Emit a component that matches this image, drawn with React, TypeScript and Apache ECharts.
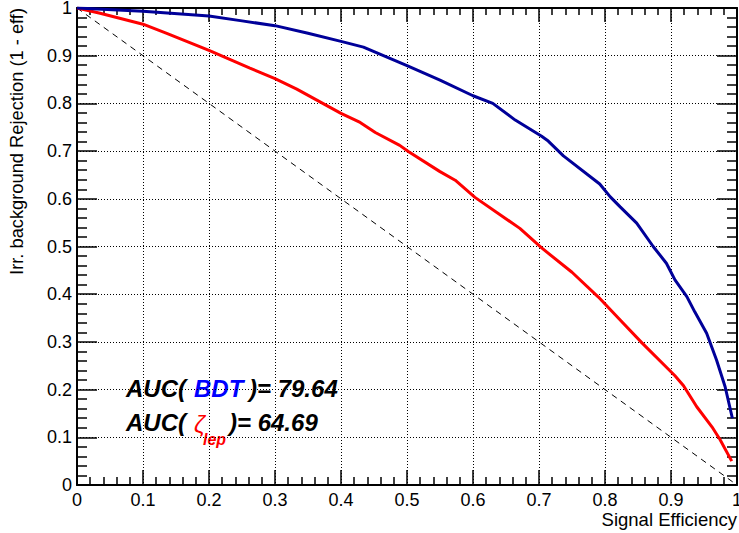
import React, { useEffect, useRef } from "react";
import * as echarts from "echarts";

const blueX = [0, 0.1, 0.2, 0.25, 0.3, 0.35, 0.4, 0.434, 0.5, 0.55, 0.6, 0.63, 0.664, 0.704, 0.714, 0.737, 0.792, 0.808, 0.823, 0.848, 0.873, 0.893, 0.906, 0.924, 0.936, 0.954, 0.969, 0.982, 0.993];
const blueY = [1, 0.993, 0.983, 0.973, 0.963, 0.947, 0.93, 0.918, 0.879, 0.849, 0.816, 0.8, 0.765, 0.731, 0.721, 0.69, 0.631, 0.604, 0.583, 0.549, 0.5, 0.465, 0.43, 0.395, 0.363, 0.318, 0.262, 0.206, 0.14];

const redX = [0, 0.035, 0.1, 0.136, 0.2, 0.262, 0.3, 0.333, 0.4, 0.429, 0.452, 0.489, 0.502, 0.55, 0.573, 0.603, 0.671, 0.704, 0.75, 0.79, 0.823, 0.856, 0.906, 0.919, 0.939, 0.962, 0.974, 0.992];
const redY = [1, 0.989, 0.966, 0.947, 0.911, 0.874, 0.852, 0.83, 0.779, 0.76, 0.739, 0.712, 0.699, 0.657, 0.639, 0.603, 0.538, 0.497, 0.446, 0.394, 0.346, 0.298, 0.229, 0.208, 0.164, 0.122, 0.096, 0.05];

const diagX = [0, 1];
const diagY = [1, 0];

const xTitle = "Signal Efficiency";
const yTitle = "Irr. background Rejection (1 - eff)";
const aucBDT = "79.64";
const aucZeta = "64.69";

const FONT = "'Liberation Sans', Arial, Helvetica, sans-serif";

export default function App() {
  const ref = useRef<HTMLDivElement>(null);
  useEffect(() => {
    if (!ref.current) return;
    const chart = echarts.init(ref.current, null, { renderer: "svg" });
    const pair = (xs: number[], ys: number[]) => xs.map((x, i) => [x, ys[i]]);
    const tickStyle = (len: number, minLen: number) => ({
      axisTick: { show: true, inside: true, length: len, lineStyle: { color: "#000", width: 1.5 } },
      minorTick: { show: true, splitNumber: 5, length: minLen, lineStyle: { color: "#000", width: 1.5 } },
    });
    const aucText = { fontFamily: FONT, fontSize: 24, fontWeight: "bold", fontStyle: "italic" };
    chart.setOption({
      animation: false,
      backgroundColor: "#fff",
      grid: { left: 77, top: 8, right: 2, bottom: 48, containLabel: false, outerBoundsMode: "none" },
      xAxis: [
        {
          type: "value", position: "bottom", min: 0, max: 1, interval: 0.1,
          axisLine: { show: true, onZero: false, lineStyle: { color: "#000", width: 2 } },
          ...tickStyle(15, 8),
          axisLabel: { show: true, color: "#000", fontSize: 18, fontFamily: FONT, margin: 6 },
          splitLine: { show: true, lineStyle: { color: "#000", width: 1, type: [1, 2] } },
        },
        {
          type: "value", position: "top", min: 0, max: 1, interval: 0.1,
          axisLine: { show: true, onZero: false, lineStyle: { color: "#000", width: 2 } },
          ...tickStyle(14, 7),
          axisLabel: { show: false },
          splitLine: { show: false },
        },
      ],
      yAxis: [
        {
          type: "value", position: "left", min: 0, max: 1, interval: 0.1,
          axisLine: { show: true, onZero: false, lineStyle: { color: "#000", width: 2 } },
          ...tickStyle(20, 10),
          axisLabel: { show: true, color: "#000", fontSize: 18, fontFamily: FONT, margin: 5 },
          splitLine: { show: true, lineStyle: { color: "#000", width: 1, type: [1, 2] } },
        },
        {
          type: "value", position: "right", min: 0, max: 1, interval: 0.1,
          axisLine: { show: true, onZero: false, lineStyle: { color: "#000", width: 2 } },
          ...tickStyle(20, 10),
          axisLabel: { show: false },
          splitLine: { show: false },
        },
      ],
      series: [
        {
          type: "line", data: pair(diagX, diagY), showSymbol: false, silent: true,
          lineStyle: { color: "#000", width: 1, type: [6, 5] }, z: 2,
        },
        {
          type: "line", data: pair(redX, redY), showSymbol: false, silent: true,
          lineStyle: { color: "#ff0000", width: 3 }, z: 3,
        },
        {
          type: "line", data: pair(blueX, blueY), showSymbol: false, silent: true,
          lineStyle: { color: "#000099", width: 3 }, z: 4,
        },
      ],
      graphic: [
        {
          type: "text", x: 737, y: 519,
          style: { text: xTitle, fontFamily: FONT, fontSize: 18.5, fill: "#000", align: "right", verticalAlign: "middle" },
        },
        {
          type: "text", x: 16, y: 8, rotation: Math.PI / 2,
          style: { text: yTitle, fontFamily: FONT, fontSize: 18.3, fill: "#000", align: "right", verticalAlign: "middle" },
        },
        { type: "text", x: 126, y: 388, style: { ...aucText, text: "AUC(", fill: "#000", verticalAlign: "middle" } },
        { type: "text", x: 194, y: 388, style: { ...aucText, text: "BDT", fill: "#0000ff", verticalAlign: "middle" } },
        { type: "text", x: 249, y: 388, style: { ...aucText, text: ")= " + aucBDT, fill: "#000", verticalAlign: "middle" } },
        { type: "text", x: 126, y: 422, style: { ...aucText, text: "AUC(", fill: "#000", verticalAlign: "middle" } },
        { type: "text", x: 194, y: 424, style: { ...aucText, fontWeight: "normal", text: "ζ", fill: "#ff0000", verticalAlign: "middle" } },
        { type: "text", x: 203, y: 439, style: { ...aucText, fontSize: 16, text: "lep", fill: "#ff0000", verticalAlign: "middle" } },
        { type: "text", x: 229, y: 422, style: { ...aucText, text: ")= " + aucZeta, fill: "#000", verticalAlign: "middle" } },
      ],
    });
    return () => chart.dispose();
  }, []);
  return (
    <div
      ref={ref}
      style={{ position: "fixed", left: 0, top: 0, width: 739, height: 533, background: "#fff" }}
    />
  );
}
